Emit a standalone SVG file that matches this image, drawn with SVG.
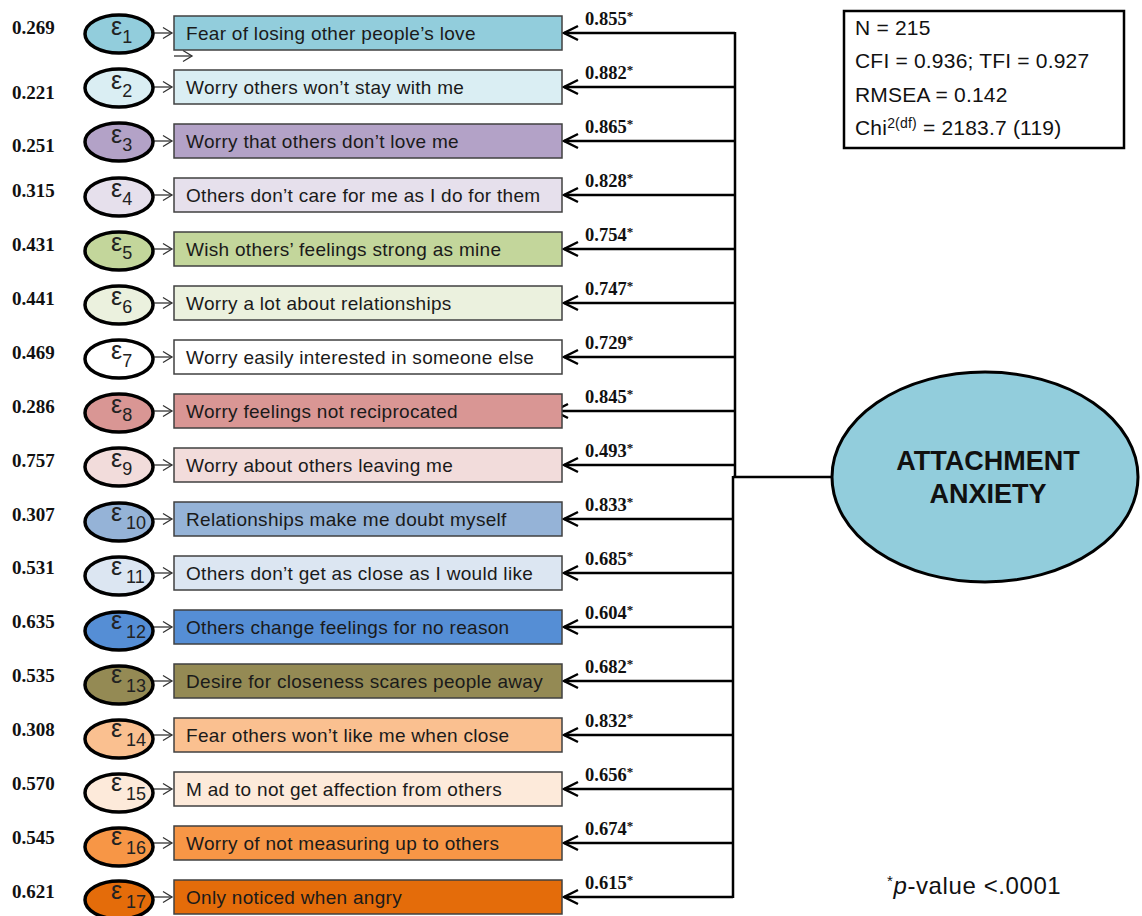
<svg xmlns="http://www.w3.org/2000/svg" width="1142" height="916" viewBox="0 0 1142 916">
<style>
.bg{fill:#fff}
.box{stroke:#404040;stroke-width:1.5}
.err{stroke:#000;stroke-width:3.5}
.t{font-family:"Liberation Sans",Arial,sans-serif;font-size:19px;letter-spacing:0.3px;fill:#1a1a1a}
.eps{font-family:"Liberation Sans",Arial,sans-serif;font-size:25px;fill:#222}
.sub{font-family:"Liberation Sans",Arial,sans-serif;font-size:18px;fill:#222}
.num{font-family:"Liberation Serif","Times New Roman",serif;font-size:19px;font-weight:bold;fill:#111}
.lab{font-family:"Liberation Serif","Times New Roman",serif;font-size:18.5px;font-weight:bold;fill:#111}
.star{font-size:13px}
.small{stroke:#333;stroke-width:1.3;fill:none;marker-end:url(#sm)}
.load{stroke:#000;stroke-width:2.5;fill:none;marker-end:url(#big)}
.trunk{stroke:#000;stroke-width:2.5;fill:none}
.stat{font-family:"Liberation Sans",Arial,sans-serif;font-size:21px;letter-spacing:0.2px;fill:#111}
.lat{font-family:"Liberation Sans",Arial,sans-serif;font-size:27px;font-weight:bold;fill:#111}
</style>
<defs>
<marker id="big" markerUnits="userSpaceOnUse" markerWidth="20" markerHeight="20" refX="0" refY="0" orient="auto" overflow="visible">
<path d="M-14,-7 L0,0 L-14,7" fill="none" stroke="#000" stroke-width="2.5"/>
</marker>
<marker id="sm" markerUnits="userSpaceOnUse" markerWidth="12" markerHeight="12" refX="0" refY="0" orient="auto" overflow="visible">
<path d="M-9,-5.5 L0,0 L-9,5.5" fill="none" stroke="#333" stroke-width="1.3"/>
</marker>
</defs>
<rect class="bg" x="0" y="0" width="1142" height="916"/>

<g id="connectors">
<line class="trunk" x1="735" y1="32" x2="735" y2="478"/>
<line class="trunk" x1="733" y1="476" x2="733" y2="898"/>
<line class="trunk" x1="733" y1="477" x2="832" y2="477"/>
<line class="load" x1="735" y1="33" x2="564" y2="33"/>
<line class="load" x1="735" y1="87" x2="564" y2="87"/>
<line class="load" x1="735" y1="141" x2="564" y2="141"/>
<line class="load" x1="735" y1="195" x2="564" y2="195"/>
<line class="load" x1="735" y1="249" x2="564" y2="249"/>
<line class="load" x1="735" y1="303" x2="564" y2="303"/>
<line class="load" x1="735" y1="357" x2="564" y2="357"/>
<line class="load" x1="735" y1="411" x2="554" y2="411"/>
<line class="load" x1="735" y1="465" x2="564" y2="465"/>
<line class="load" x1="733" y1="519" x2="564" y2="519"/>
<line class="load" x1="733" y1="573" x2="564" y2="573"/>
<line class="load" x1="733" y1="627" x2="564" y2="627"/>
<line class="load" x1="733" y1="681" x2="564" y2="681"/>
<line class="load" x1="733" y1="735" x2="564" y2="735"/>
<line class="load" x1="733" y1="789" x2="564" y2="789"/>
<line class="load" x1="733" y1="843" x2="564" y2="843"/>
<line class="load" x1="733" y1="897" x2="564" y2="897"/>
<line class="small" x1="154" y1="33" x2="172" y2="33"/>
<line class="small" x1="174" y1="56" x2="192" y2="56"/>
<line class="small" x1="154" y1="87" x2="172" y2="87"/>
<line class="small" x1="154" y1="141" x2="172" y2="141"/>
<line class="small" x1="154" y1="195" x2="172" y2="195"/>
<line class="small" x1="154" y1="249" x2="172" y2="249"/>
<line class="small" x1="154" y1="303" x2="172" y2="303"/>
<line class="small" x1="154" y1="357" x2="172" y2="357"/>
<line class="small" x1="154" y1="411" x2="172" y2="411"/>
<line class="small" x1="154" y1="465" x2="172" y2="465"/>
<line class="small" x1="154" y1="519" x2="172" y2="519"/>
<line class="small" x1="154" y1="573" x2="172" y2="573"/>
<line class="small" x1="154" y1="627" x2="172" y2="627"/>
<line class="small" x1="154" y1="681" x2="172" y2="681"/>
<line class="small" x1="154" y1="735" x2="172" y2="735"/>
<line class="small" x1="154" y1="789" x2="172" y2="789"/>
<line class="small" x1="154" y1="843" x2="172" y2="843"/>
<line class="small" x1="154" y1="897" x2="172" y2="897"/>
<text class="lab" x="585" y="25">0.855<tspan class="star" dy="-5">*</tspan></text>
<text class="lab" x="585" y="79">0.882<tspan class="star" dy="-5">*</tspan></text>
<text class="lab" x="585" y="133">0.865<tspan class="star" dy="-5">*</tspan></text>
<text class="lab" x="585" y="187">0.828<tspan class="star" dy="-5">*</tspan></text>
<text class="lab" x="585" y="241">0.754<tspan class="star" dy="-5">*</tspan></text>
<text class="lab" x="585" y="295">0.747<tspan class="star" dy="-5">*</tspan></text>
<text class="lab" x="585" y="349">0.729<tspan class="star" dy="-5">*</tspan></text>
<text class="lab" x="585" y="403">0.845<tspan class="star" dy="-5">*</tspan></text>
<text class="lab" x="585" y="457">0.493<tspan class="star" dy="-5">*</tspan></text>
<text class="lab" x="585" y="511">0.833<tspan class="star" dy="-5">*</tspan></text>
<text class="lab" x="585" y="565">0.685<tspan class="star" dy="-5">*</tspan></text>
<text class="lab" x="585" y="619">0.604<tspan class="star" dy="-5">*</tspan></text>
<text class="lab" x="585" y="673">0.682<tspan class="star" dy="-5">*</tspan></text>
<text class="lab" x="585" y="727">0.832<tspan class="star" dy="-5">*</tspan></text>
<text class="lab" x="585" y="781">0.656<tspan class="star" dy="-5">*</tspan></text>
<text class="lab" x="585" y="835">0.674<tspan class="star" dy="-5">*</tspan></text>
<text class="lab" x="585" y="889">0.615<tspan class="star" dy="-5">*</tspan></text>
</g>

<g id="item1"><text class="num" x="12" y="34">0.269</text><ellipse class="err" cx="119" cy="34" rx="34" ry="19" fill="#92CDDC"/><text class="eps" x="111" y="35">ε<tspan class="sub" dy="8">1</tspan></text><rect class="box" x="174" y="16" width="388" height="34" fill="#92CDDC"/><text class="t" x="186" y="40">Fear of losing other people’s love</text></g>
<g id="item2"><text class="num" x="12" y="99">0.221</text><ellipse class="err" cx="119" cy="88" rx="34" ry="19" fill="#DAEEF3"/><text class="eps" x="111" y="89">ε<tspan class="sub" dy="8">2</tspan></text><rect class="box" x="174" y="70" width="388" height="34" fill="#DAEEF3"/><text class="t" x="186" y="94">Worry others won’t stay with me</text></g>
<g id="item3"><text class="num" x="12" y="152">0.251</text><ellipse class="err" cx="119" cy="142" rx="34" ry="19" fill="#B3A2C7"/><text class="eps" x="111" y="143">ε<tspan class="sub" dy="8">3</tspan></text><rect class="box" x="174" y="124" width="388" height="34" fill="#B3A2C7"/><text class="t" x="186" y="148">Worry that others don’t love me</text></g>
<g id="item4"><text class="num" x="12" y="197">0.315</text><ellipse class="err" cx="119" cy="197" rx="34" ry="19" fill="#E6E0EC"/><text class="eps" x="111" y="197">ε<tspan class="sub" dy="8">4</tspan></text><rect class="box" x="174" y="178" width="388" height="34" fill="#E6E0EC"/><text class="t" x="186" y="202">Others don’t care for me as I do for them</text></g>
<g id="item5"><text class="num" x="12" y="251">0.431</text><ellipse class="err" cx="119" cy="251" rx="34" ry="19" fill="#C3D69B"/><text class="eps" x="111" y="251">ε<tspan class="sub" dy="8">5</tspan></text><rect class="box" x="174" y="232" width="388" height="34" fill="#C3D69B"/><text class="t" x="186" y="256">Wish others’ feelings strong as mine</text></g>
<g id="item6"><text class="num" x="12" y="305">0.441</text><ellipse class="err" cx="119" cy="305" rx="34" ry="19" fill="#EBF1DE"/><text class="eps" x="111" y="305">ε<tspan class="sub" dy="8">6</tspan></text><rect class="box" x="174" y="286" width="388" height="34" fill="#EBF1DE"/><text class="t" x="186" y="310">Worry a lot about relationships</text></g>
<g id="item7"><text class="num" x="12" y="359">0.469</text><ellipse class="err" cx="119" cy="359" rx="34" ry="19" fill="#FFFFFF"/><text class="eps" x="111" y="359">ε<tspan class="sub" dy="8">7</tspan></text><rect class="box" x="174" y="340" width="388" height="34" fill="#FFFFFF"/><text class="t" x="186" y="364">Worry easily interested in someone else</text></g>
<g id="item8"><text class="num" x="12" y="413">0.286</text><ellipse class="err" cx="119" cy="413" rx="34" ry="19" fill="#D99694"/><text class="eps" x="111" y="413">ε<tspan class="sub" dy="8">8</tspan></text><rect class="box" x="174" y="394" width="388" height="34" fill="#D99694"/><text class="t" x="186" y="418">Worry feelings not reciprocated</text></g>
<g id="item9"><text class="num" x="12" y="467">0.757</text><ellipse class="err" cx="119" cy="467" rx="34" ry="19" fill="#F2DCDB"/><text class="eps" x="111" y="467">ε<tspan class="sub" dy="8">9</tspan></text><rect class="box" x="174" y="448" width="388" height="34" fill="#F2DCDB"/><text class="t" x="186" y="472">Worry about others leaving me</text></g>
<g id="item10"><text class="num" x="12" y="521">0.307</text><ellipse class="err" cx="119" cy="522" rx="34" ry="19" fill="#95B3D7"/><text class="eps" x="111" y="521">ε<tspan class="sub" dy="8" x="126">10</tspan></text><rect class="box" x="174" y="502" width="388" height="34" fill="#95B3D7"/><text class="t" x="186" y="526">Relationships make me doubt myself</text></g>
<g id="item11"><text class="num" x="12" y="574">0.531</text><ellipse class="err" cx="119" cy="576" rx="34" ry="19" fill="#DCE6F2"/><text class="eps" x="111" y="575">ε<tspan class="sub" dy="8" x="126">11</tspan></text><rect class="box" x="174" y="556" width="388" height="34" fill="#DCE6F2"/><text class="t" x="186" y="580">Others don’t get as close as I would like</text></g>
<g id="item12"><text class="num" x="12" y="628">0.635</text><ellipse class="err" cx="119" cy="631" rx="34" ry="19" fill="#558ED5"/><text class="eps" x="111" y="629">ε<tspan class="sub" dy="9" x="126">12</tspan></text><rect class="box" x="174" y="610" width="388" height="34" fill="#558ED5"/><text class="t" x="186" y="634">Others change feelings for no reason</text></g>
<g id="item13"><text class="num" x="12" y="682">0.535</text><ellipse class="err" cx="119" cy="685" rx="34" ry="19" fill="#948A54"/><text class="eps" x="111" y="683">ε<tspan class="sub" dy="9" x="126">13</tspan></text><rect class="box" x="174" y="664" width="388" height="34" fill="#948A54"/><text class="t" x="186" y="688">Desire for closeness scares people away</text></g>
<g id="item14"><text class="num" x="12" y="736">0.308</text><ellipse class="err" cx="119" cy="739" rx="34" ry="19" fill="#FAC090"/><text class="eps" x="111" y="737">ε<tspan class="sub" dy="9" x="126">14</tspan></text><rect class="box" x="174" y="718" width="388" height="34" fill="#FAC090"/><text class="t" x="186" y="742">Fear others won’t like me when close</text></g>
<g id="item15"><text class="num" x="12" y="790">0.570</text><ellipse class="err" cx="119" cy="793" rx="34" ry="19" fill="#FDEADA"/><text class="eps" x="111" y="791">ε<tspan class="sub" dy="9" x="126">15</tspan></text><rect class="box" x="174" y="772" width="388" height="34" fill="#FDEADA"/><text class="t" x="186" y="796">M ad to not get affection from others</text></g>
<g id="item16"><text class="num" x="12" y="844">0.545</text><ellipse class="err" cx="119" cy="847" rx="34" ry="19" fill="#F79646"/><text class="eps" x="111" y="845">ε<tspan class="sub" dy="9" x="126">16</tspan></text><rect class="box" x="174" y="826" width="388" height="34" fill="#F79646"/><text class="t" x="186" y="850">Worry of not measuring up to others</text></g>
<g id="item17"><text class="num" x="12" y="898">0.621</text><ellipse class="err" cx="119" cy="900" rx="34" ry="19" fill="#E46C0A"/><text class="eps" x="111" y="899">ε<tspan class="sub" dy="9" x="126">17</tspan></text><rect class="box" x="174" y="880" width="388" height="34" fill="#E46C0A"/><text class="t" x="186" y="904">Only noticed when angry</text></g>

<g id="latent">
<ellipse cx="985" cy="477" rx="153" ry="105" fill="#92CDDC" stroke="#000" stroke-width="3"/>
<text class="lat" x="988" y="470" text-anchor="middle">ATTACHMENT</text>
<text class="lat" x="988" y="503" text-anchor="middle">ANXIETY</text>
</g>

<g id="fit-stats">
<rect x="844" y="11" width="280" height="137" fill="#fff" stroke="#000" stroke-width="2.5"/>
<text class="stat" x="855" y="35">N = 215</text>
<text class="stat" x="855" y="68">CFI = 0.936; TFI = 0.927</text>
<text class="stat" x="855" y="102">RMSEA = 0.142</text>
<text class="stat" x="855" y="135">Chi<tspan font-size="14" dy="-7">2(df)</tspan><tspan dy="7"> = 2183.7 (119)</tspan></text>
</g>

<g id="note">
<text class="stat" x="887" y="894" style="font-size:24px;letter-spacing:0.6px"><tspan font-size="15" dy="-8">*</tspan><tspan dy="8" font-style="italic">p</tspan>-value &lt;.0001</text>
</g>
</svg>
